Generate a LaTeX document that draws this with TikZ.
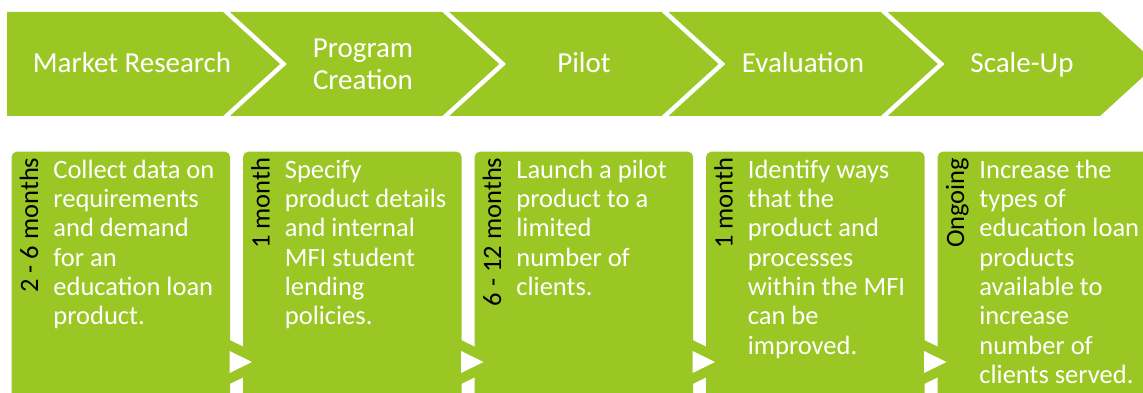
\documentclass[tikz,border=0pt]{standalone}
\usepackage{fontspec}
\setmainfont{Carlito}
\definecolor{lime}{RGB}{155,199,37}
\tikzset{
  chev/.style={fill=lime, draw=none},
  stagebox/.style={fill=lime, draw=none, rounded corners=5pt},
  toptext/.style={text=white, inner sep=0pt, align=center, font=\fontsize{29}{32}\selectfont},
  bodytext/.style={text=white, inner sep=0pt, anchor=base west, font=\fontsize{26.5}{29.3}\selectfont},
  durtext/.style={text=black, inner sep=0pt, rotate=90, anchor=base east, font=\fontsize{26.5}{29.3}\selectfont},
  tripout/.style={fill=lime, draw=none},
  tripin/.style={fill=white, draw=none},
}
\newcommand{\bodybox}[1]{\parbox[t]{210pt}{\raggedright #1}}
\begin{document}
\begin{tikzpicture}[x=1pt,y=-1pt]
\useasboundingbox (0,0) rectangle (1143,393);
\clip (0,0) rectangle (1143,393);
% top chevrons
\fill[chev] (7,12) -- (223,12) -- (280,64) -- (223,116) -- (7,116) -- cycle;
\foreach \k in {1,2,3,4} {
  \pgfmathsetmacro{\R}{223+219.25*\k}
  \pgfmathsetmacro{\L}{223+219.25*(\k-1)+7}
  \fill[chev] (\L,12) -- (\R,12) -- (\R+57,64) -- (\R,116) -- (\L,116) -- (\L+57,64) -- cycle;
}
\node[toptext, anchor=base] (s1) at (132,72.7) {Market Research};
\node[toptext] (s2) at (363,64.2) {Program\\Creation};
\node[toptext, anchor=base] (s3) at (584,72.7) {Pilot};
\node[toptext, anchor=base] (s4) at (803,72.7) {Evaluation};
\node[toptext, anchor=base] (s5) at (1022,72.7) {Scale-Up};
% bottom boxes
\foreach \k in {0,1,2,3,4} {
  \pgfmathsetmacro{\L}{11.7+231.5*\k}
  \fill[stagebox] (\L,420) -- (\L,151.7) -- (\L+218.3,151.7) -- (\L+218.3,420) -- cycle;
}
% small arrows between boxes
\foreach \k in {0,1,2,3} {
  \pgfmathsetmacro{\R}{11.7+231.5*\k+218.3}
  \fill[tripout] (\R-0.5,340) -- (\R+45,362) -- (\R-0.5,384) -- cycle;
  \fill[tripin] (\R-0.5,351) -- (\R+22,362) -- (\R-0.5,373) -- cycle;
}
% durations
\node[durtext] (d1) at (38,157.5) {2 - 6 months};
\node[durtext] (d2) at (269.7,157.5) {1 month};
\node[durtext] (d3) at (501.2,157.5) {6 - 12 months};
\node[durtext] (d4) at (732.7,157.5) {1 month};
\node[durtext] (d5) at (964.2,157.5) {Ongoing};
% descriptions
\node[bodytext] (b1) at (53.2,178.3) {\bodybox{Collect data on\\requirements\\and demand\\for an\\education loan\\product.}};
\node[bodytext] (b2) at (284.7,178.3) {\bodybox{Specify\\product details\\and internal\\MFI student\\lending\\policies.}};
\node[bodytext] (b3) at (516.2,178.3) {\bodybox{Launch a pilot\\product to a\\limited\\number of\\clients.}};
\node[bodytext] (b4) at (747.7,178.3) {\bodybox{Identify ways\\that the\\product and\\processes\\within the MFI\\can be\\improved.}};
\node[bodytext] (b5) at (979.2,178.3) {\bodybox{Increase the\\types of\\education loan\\products\\available to\\increase\\number of\\clients served.}};
\end{tikzpicture}
\end{document}
